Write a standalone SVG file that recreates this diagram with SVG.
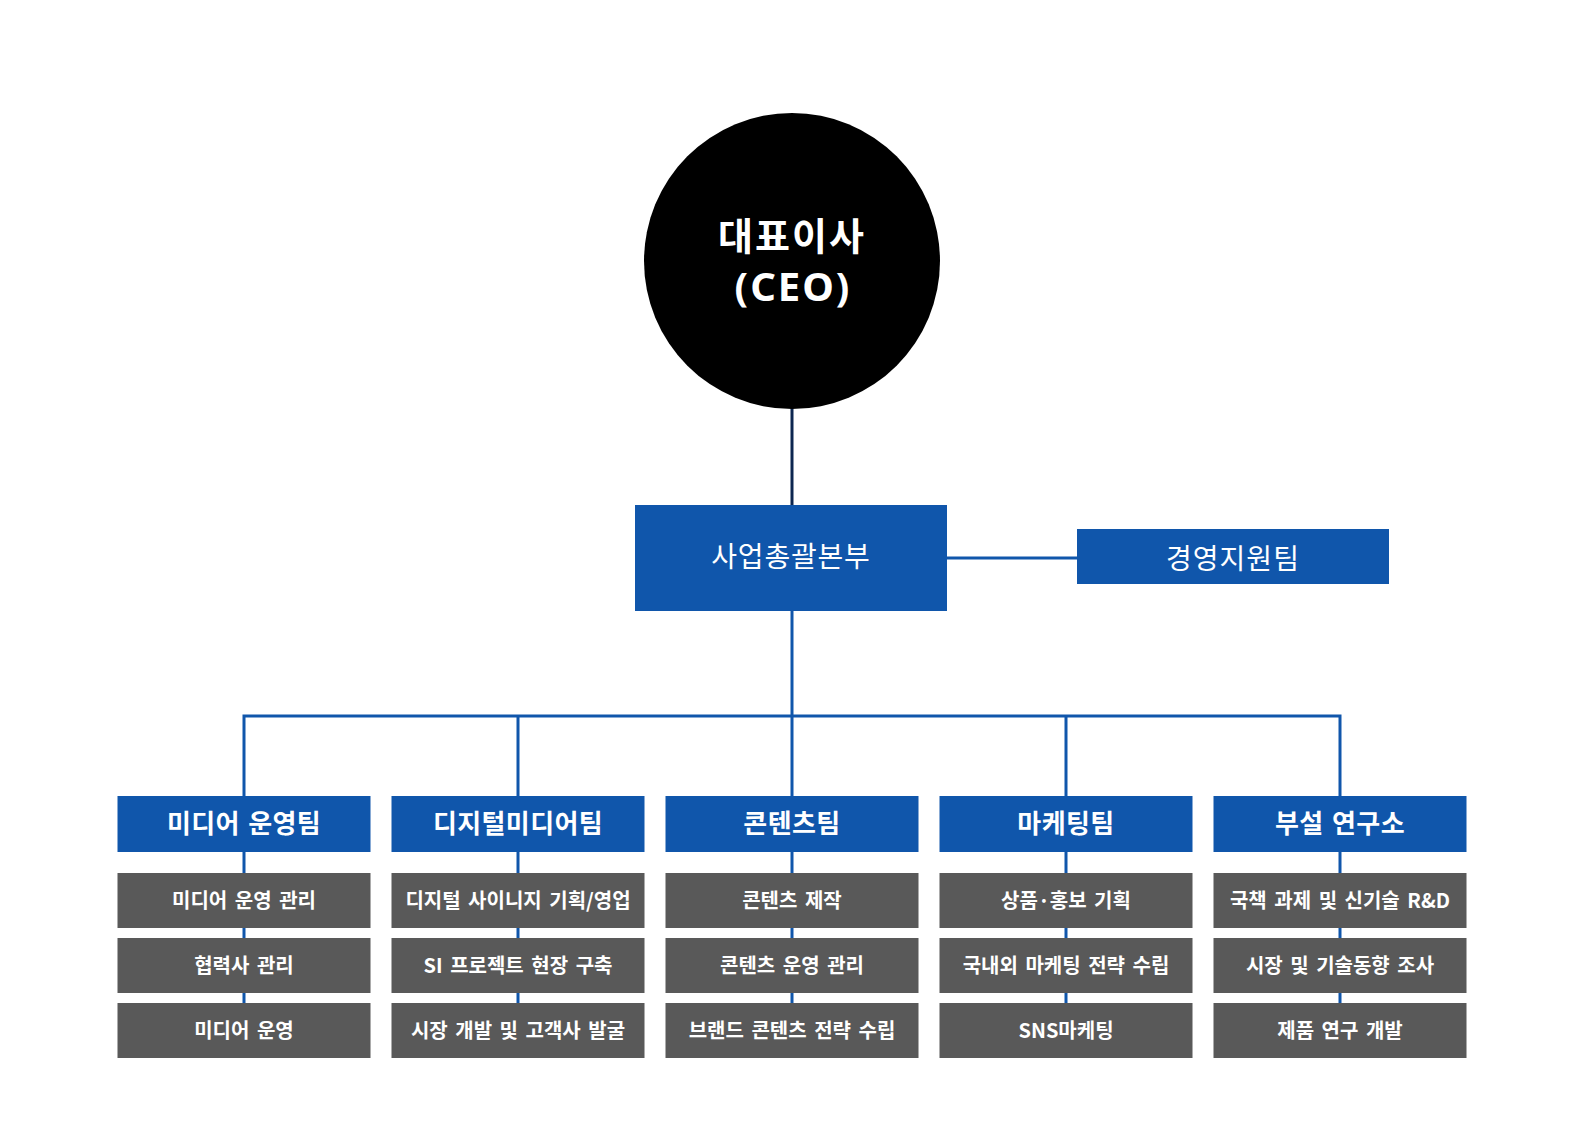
<svg xmlns="http://www.w3.org/2000/svg" width="1582" height="1125" viewBox="0 0 1582 1125">
<style>
.bg{fill:#ffffff}
.blue{fill:#1056ab}
.gray{fill:#595959}
.ln{fill:none;stroke:#1056ab;stroke-width:3}
.ceoln{fill:none;stroke:#0d2650;stroke-width:3}
text{font-family:"Noto Sans CJK KR","Noto Sans",sans-serif;fill:#ffffff;text-anchor:middle}
.ceo{font-size:38px;font-weight:700;letter-spacing:2px}
.ceo-en{font-family:"Noto Sans","Noto Sans CJK KR",sans-serif;font-size:40px;font-weight:700;letter-spacing:2px}
.hq{font-size:28px;font-weight:400;letter-spacing:0.8px}
.mg{font-size:28px;font-weight:400;letter-spacing:1px}
.team{font-size:26px;font-weight:700;letter-spacing:0.4px;word-spacing:2px}
.task{font-size:20px;font-weight:700;letter-spacing:0px;word-spacing:3px}
</style>
<rect class="bg" x="0" y="0" width="1582" height="1125"/>
<g id="connectors">
<path class="ceoln" d="M792 405 V505"/>
<path class="ln" d="M947 558 H1077"/>
<path class="ln" d="M792 611 V716"/>
<path class="ln" d="M244 796 V716 H1340 V796"/>
<path class="ln" d="M518 716 V796 M792 716 V796 M1066 716 V796"/>
<path class="ln" d="M244 852 V1003 M518 852 V1003 M792 852 V1003 M1066 852 V1003 M1340 852 V1003"/>
</g>
<g id="ceo">
<circle cx="792" cy="261" r="148" fill="#000000"/>
<text class="ceo" x="792" y="250">대표이사</text>
<text class="ceo-en" x="793" y="301">(CEO)</text>
</g>
<g id="hq">
<rect class="blue" x="635" y="505" width="312" height="106"/>
<text class="hq" x="791" y="567">사업총괄본부</text>
</g>
<g id="mgmt">
<rect class="blue" x="1077" y="529" width="312" height="55"/>
<text class="mg" x="1233" y="569">경영지원팀</text>
</g>
<g id="team-media">
<rect class="blue" x="117.5" y="796" width="253" height="56"/>
<text class="team" x="244" y="833">미디어 운영팀</text>
</g>
<g id="task-media-1"><rect class="gray" x="117.5" y="873" width="253" height="55"/><text class="task" x="244" y="908">미디어 운영 관리</text></g>
<g id="task-media-2"><rect class="gray" x="117.5" y="938" width="253" height="55"/><text class="task" x="244" y="973">협력사 관리</text></g>
<g id="task-media-3"><rect class="gray" x="117.5" y="1003" width="253" height="55"/><text class="task" x="244" y="1038">미디어 운영</text></g>
<g id="team-digital">
<rect class="blue" x="391.5" y="796" width="253" height="56"/>
<text class="team" x="518" y="833">디지털미디어팀</text>
</g>
<g id="task-digital-1"><rect class="gray" x="391.5" y="873" width="253" height="55"/><text class="task" x="518" y="908">디지털 사이니지 기획/영업</text></g>
<g id="task-digital-2"><rect class="gray" x="391.5" y="938" width="253" height="55"/><text class="task" x="518" y="973">SI 프로젝트 현장 구축</text></g>
<g id="task-digital-3"><rect class="gray" x="391.5" y="1003" width="253" height="55"/><text class="task" x="518" y="1038">시장 개발 및 고객사 발굴</text></g>
<g id="team-contents">
<rect class="blue" x="665.5" y="796" width="253" height="56"/>
<text class="team" x="792" y="833">콘텐츠팀</text>
</g>
<g id="task-contents-1"><rect class="gray" x="665.5" y="873" width="253" height="55"/><text class="task" x="792" y="908">콘텐츠 제작</text></g>
<g id="task-contents-2"><rect class="gray" x="665.5" y="938" width="253" height="55"/><text class="task" x="792" y="973">콘텐츠 운영 관리</text></g>
<g id="task-contents-3"><rect class="gray" x="665.5" y="1003" width="253" height="55"/><text class="task" x="792" y="1038">브랜드 콘텐츠 전략 수립</text></g>
<g id="team-marketing">
<rect class="blue" x="939.5" y="796" width="253" height="56"/>
<text class="team" x="1066" y="833">마케팅팀</text>
</g>
<g id="task-marketing-1"><rect class="gray" x="939.5" y="873" width="253" height="55"/><text class="task" x="1066" y="908">상품·홍보 기획</text></g>
<g id="task-marketing-2"><rect class="gray" x="939.5" y="938" width="253" height="55"/><text class="task" x="1066" y="973">국내외 마케팅 전략 수립</text></g>
<g id="task-marketing-3"><rect class="gray" x="939.5" y="1003" width="253" height="55"/><text class="task" x="1066" y="1038">SNS마케팅</text></g>
<g id="team-lab">
<rect class="blue" x="1213.5" y="796" width="253" height="56"/>
<text class="team" x="1340" y="833">부설 연구소</text>
</g>
<g id="task-lab-1"><rect class="gray" x="1213.5" y="873" width="253" height="55"/><text class="task" x="1340" y="908">국책 과제 및 신기술 R&amp;D</text></g>
<g id="task-lab-2"><rect class="gray" x="1213.5" y="938" width="253" height="55"/><text class="task" x="1340" y="973">시장 및 기술동향 조사</text></g>
<g id="task-lab-3"><rect class="gray" x="1213.5" y="1003" width="253" height="55"/><text class="task" x="1340" y="1038">제품 연구 개발</text></g>
</svg>
